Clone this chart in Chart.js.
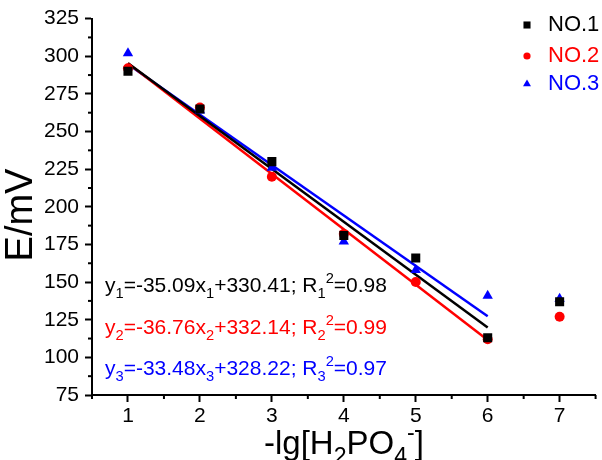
<!DOCTYPE html>
<html lang="en">
<head>
    <meta charset="UTF-8">
    <title>E/mV vs -lg[H2PO4-]</title>
    <script src="https://cdn.jsdelivr.net/npm/chart.js"></script>
    <style>
        body { margin: 0; background: #fff; }
        #wrap { width: 602px; height: 460px; }
    </style>
</head>
<body>
    <div id="wrap"><canvas id="chart"></canvas></div>
    <script>
        // данные
        const xValues = [1, 2, 3, 4, 5, 6, 7];
        const seriesNames = ["NO.1", "NO.2", "NO.3"];
        const seriesColors = ["#000000", "#ff0000", "#0000ff"];
        const seriesStyles = ["rect", "circle", "triangle"];
        const no1 = [290, 265, 230, 181, 166, 113, 137];
        const no2 = [292, 266, 220, 182, 150, 112, 127];
        const no3 = [302, 264, 226, 177, 158, 141, 139];
        // линейная аппроксимация (по первым шести точкам)
        const slopes = [-35.09, -36.76, -33.48];
        const intercepts = [330.41, 332.14, 328.22];
        const r2 = [0.98, 0.99, 0.97];
        const fitRange = [1, 6];
        const yTicks = [75, 100, 125, 150, 175, 200, 225, 250, 275, 300, 325];
        const xTicks = [1, 2, 3, 4, 5, 6, 7];

        const FONT = "Arial, 'Liberation Sans', sans-serif";
        const allSeries = [no1, no2, no3];
        const markerSize = [6.4, 5, 6];   // размер маркеров на графике
        const legendSize = [5, 3.6, 4.6]; // размер маркеров в легенде

        const datasets = [];
        allSeries.forEach((vals, i) => {
            datasets.push({
                type: "line",
                label: "fit" + (i + 1),
                data: fitRange.map(x => ({ x: x, y: intercepts[i] + slopes[i] * x })),
                borderColor: seriesColors[i],
                borderWidth: 2.5,
                pointRadius: 0,
                fill: false,
                order: 2
            });
        });
        allSeries.forEach((vals, i) => {
            datasets.push({
                type: "scatter",
                label: seriesNames[i],
                data: xValues.map((x, k) => ({ x: x, y: vals[k] })),
                backgroundColor: seriesColors[i],
                borderColor: seriesColors[i],
                pointStyle: seriesStyles[i],
                pointRadius: markerSize[i],
                borderWidth: 0,
                order: 1
            });
        });

        // текст с нижними/верхними индексами: [текст, "n"|"sub"|"sup"]
        function drawRich(ctx, parts, x, y, size, color) {
            ctx.save();
            ctx.fillStyle = color;
            ctx.textBaseline = "alphabetic";
            ctx.textAlign = "left";
            let cx = x;
            parts.forEach(([t, kind]) => {
                let fs = size, dy = 0;
                if (kind === "sub") { fs = size * 0.7; dy = size * 0.3; }
                if (kind === "sup") { fs = size * 0.7; dy = -size * 0.42; }
                ctx.font = fs + "px " + FONT;
                ctx.fillText(t, cx, y + dy);
                cx += ctx.measureText(t).width;
            });
            ctx.restore();
        }
        function richWidth(ctx, parts, size) {
            let w = 0;
            ctx.save();
            parts.forEach(([t, kind]) => {
                const fs = kind === "n" ? size : size * 0.7;
                ctx.font = fs + "px " + FONT;
                w += ctx.measureText(t).width;
            });
            ctx.restore();
            return w;
        }

        const extras = {
            id: "extras",
            afterDraw(chart) {
                const ctx = chart.ctx;
                const xs = chart.scales.x, ys = chart.scales.y;
                const area = chart.chartArea;

                // мелкие штрихи
                ctx.save();
                ctx.strokeStyle = "#000";
                ctx.lineWidth = 2;
                for (let k = 0; k < yTicks.length - 1; k++) {
                    const py = ys.getPixelForValue((yTicks[k] + yTicks[k + 1]) / 2);
                    ctx.beginPath(); ctx.moveTo(area.left - 4, py); ctx.lineTo(area.left, py); ctx.stroke();
                }
                for (let v = 0.5; v <= 7.5; v += 1) {
                    const px = xs.getPixelForValue(v);
                    ctx.beginPath(); ctx.moveTo(px, area.bottom); ctx.lineTo(px, area.bottom + 4); ctx.stroke();
                }
                ctx.restore();

                // уравнения
                const eqBase = [292, 334, 375];
                for (let i = 0; i < 3; i++) {
                    const n = String(i + 1);
                    const parts = [
                        ["y", "n"], [n, "sub"], ["=" + slopes[i].toFixed(2) + "x", "n"], [n, "sub"],
                        ["+" + intercepts[i].toFixed(2) + "; R", "n"], [n, "sub"], ["2", "sup"],
                        ["=" + r2[i].toFixed(2), "n"]
                    ];
                    drawRich(ctx, parts, 105, eqBase[i], 21, seriesColors[i]);
                }

                // легенда
                const legY = [25, 56, 84];
                for (let i = 0; i < 3; i++) {
                    ctx.save();
                    ctx.fillStyle = seriesColors[i];
                    ctx.strokeStyle = seriesColors[i];
                    Chart.helpers.drawPoint(ctx, {
                        pointStyle: seriesStyles[i],
                        radius: legendSize[i],
                        borderWidth: 0
                    }, 527, legY[i]);
                    ctx.font = "22px " + FONT;
                    ctx.textBaseline = "middle";
                    ctx.fillText(seriesNames[i], 548, legY[i]);
                    ctx.restore();
                }

                // подписи осей
                const yParts = [["E/mV", "n"]];
                ctx.save();
                ctx.translate(32, 215);
                ctx.rotate(-Math.PI / 2);
                const yw = richWidth(ctx, yParts, 38);
                drawRich(ctx, yParts, -yw / 2, 0, 38, "#000");
                ctx.restore();

                const xParts = [["-lg[H", "n"], ["2", "sub"], ["PO", "n"], ["4", "sub"], ["-", "sup"], ["]", "n"]];
                drawRich(ctx, xParts, 264, 454, 33, "#000");
            }
        };

        new Chart(document.getElementById("chart"), {
            type: "scatter",
            data: { datasets: datasets },
            options: {
                responsive: true,
                maintainAspectRatio: false,
                animation: false,
                layout: { padding: { top: 15, right: 4, left: 0, bottom: 0 } },
                plugins: {
                    legend: { display: false },
                    tooltip: { enabled: false }
                },
                scales: {
                    x: {
                        type: "linear",
                        min: 0.5,
                        max: 7.5,
                        afterBuildTicks: s => { s.ticks = xTicks.map(v => ({ value: v })); },
                        afterFit: s => { s.height = 65; },
                        border: { color: "#000", width: 2 },
                        grid: { drawOnChartArea: false, tickLength: 7, tickWidth: 2, tickColor: "#000" },
                        ticks: { color: "#000", font: { family: FONT, size: 21 }, padding: 2, maxRotation: 0 }
                    },
                    y: {
                        min: 75,
                        max: 325,
                        afterBuildTicks: s => { s.ticks = yTicks.map(v => ({ value: v })); },
                        afterFit: s => { s.width = 92; },
                        border: { color: "#000", width: 2 },
                        grid: { drawOnChartArea: false, tickLength: 7, tickWidth: 2, tickColor: "#000" },
                        ticks: { color: "#000", font: { family: FONT, size: 21 }, padding: 6 }
                    }
                }
            },
            plugins: [extras]
        });
    </script>
</body>
</html>
